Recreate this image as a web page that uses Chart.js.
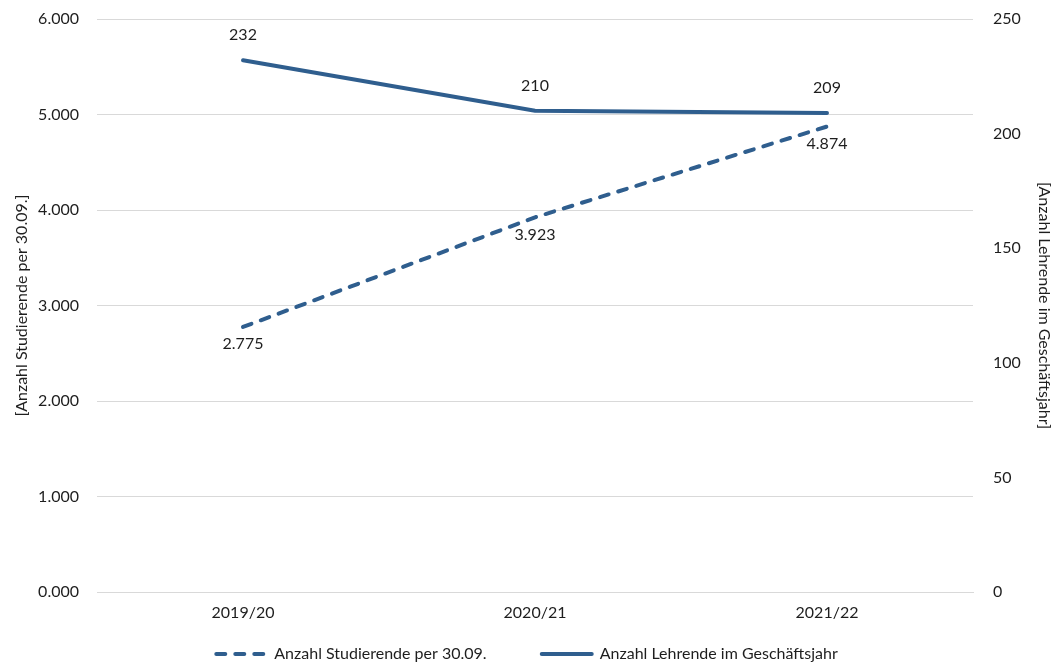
<!DOCTYPE html>
<html>
<head>
<meta charset="utf-8">
<script src="https://cdn.jsdelivr.net/npm/chart.js@4"></script>
<style>
  html, body { margin: 0; padding: 0; background: #fff; }
  #wrap { width: 1054px; height: 668px; }
</style>
</head>
<body>
<div id="wrap"><canvas id="chart" width="1054" height="668"></canvas></div>
<script>
// data
const years = ["2019/20", "2020/21", "2021/22"];
const studierende = [2775, 3923, 4874];
const lehrende = [232, 210, 209];
const leftTicks = ["0.000", "1.000", "2.000", "3.000", "4.000", "5.000", "6.000"];
const rightTicks = ["0", "50", "100", "150", "200", "250"];

const blue = "#2F5E8E";
const font = "Lato, 'Open Sans', sans-serif";
const textColor = "#1e1e1e";

// draws the numbers next to the points
const pointLabels = {
  id: "pointLabels",
  afterDatasetsDraw(chart) {
    const ctx = chart.ctx;
    ctx.save();
    ctx.font = "16px " + font;
    ctx.fillStyle = textColor;
    ctx.textAlign = "center";
    ctx.textBaseline = "middle";
    chart.data.datasets.forEach((ds, i) => {
      const meta = chart.getDatasetMeta(i);
      meta.data.forEach((pt, j) => {
        const dy = i === 0 ? 17 : -25;
        ctx.fillText(ds.labelText[j], pt.x, pt.y + dy);
      });
    });
    ctx.restore();
  }
};

function fmtThousands(n) {
  return n.toString().replace(/\B(?=(\d{3})+(?!\d))/g, ".");
}

// fixed widths for the side axes, no extra overflow padding
function fixWidth(w) {
  return (scale) => {
    scale.width = w;
    scale.paddingTop = 0;
    scale.paddingBottom = 0;
  };
}

const ctx = document.getElementById("chart").getContext("2d");
new Chart(ctx, {
  type: "line",
  data: {
    labels: years,
    datasets: [
      {
        label: "Anzahl Studierende per 30.09.",
        data: studierende,
        labelText: studierende.map(fmtThousands),
        yAxisID: "y",
        borderColor: blue,
        backgroundColor: blue,
        borderWidth: 4,
        borderDash: [9, 10],
        borderCapStyle: "round",
        pointRadius: 0,
        tension: 0
      },
      {
        label: "Anzahl Lehrende im Geschäftsjahr",
        data: lehrende,
        labelText: lehrende.map(String),
        yAxisID: "y1",
        borderColor: blue,
        backgroundColor: blue,
        borderWidth: 4,
        borderCapStyle: "round",
        pointRadius: 0,
        tension: 0
      }
    ]
  },
  options: {
    responsive: false,
    animation: false,
    layout: { padding: { top: 19, left: 0, right: 0, bottom: -4 } },
    plugins: {
      tooltip: { enabled: false },
      legend: {
        position: "bottom",
        labels: {
          usePointStyle: true,
          pointStyle: "line",
          pointStyleWidth: 50,
          padding: 18,
          color: textColor,
          font: { family: font, size: 16 },
          generateLabels(chart) {
            const items = Chart.defaults.plugins.legend.labels.generateLabels(chart);
            items.forEach((it, i) => {
              const ds = chart.data.datasets[i];
              it.lineDash = ds.borderDash || [];
              it.lineCap = "round";
              it.lineWidth = 4;
              it.strokeStyle = ds.borderColor;
              // wider gap after the first item
              if (i === 0) it.text = ds.label + "\u2007\u2007\u2007\u2007";
            });
            return items;
          }
        }
      }
    },
    scales: {
      x: {
        offset: true,
        grid: { display: false },
        border: { color: "#d9d9d9" },
        ticks: { color: textColor, padding: 3, font: { family: font, size: 16 } },
        afterFit(scale) { scale.height = 36; }
      },
      y: {
        position: "left",
        min: 0,
        max: 6000,
        grid: { color: "#d9d9d9", drawTicks: false },
        border: { display: false },
        ticks: {
          stepSize: 1000,
          padding: 18,
          color: textColor,
          font: { family: font, size: 16 },
          callback: (v) => leftTicks[v / 1000]
        },
        title: {
          display: true,
          text: "[Anzahl Studierende per 30.09.]",
          color: textColor,
          font: { family: font, size: 16 },
          padding: { top: 12, bottom: 0 }
        },
        afterFit: fixWidth(97)
      },
      y1: {
        position: "right",
        min: 0,
        max: 250,
        grid: { display: false, drawTicks: false },
        border: { display: false },
        ticks: {
          stepSize: 50,
          padding: 20,
          color: textColor,
          font: { family: font, size: 16 },
          callback: (v) => rightTicks[v / 50]
        },
        title: {
          display: true,
          text: "[Anzahl Lehrende im Geschäftsjahr]",
          color: textColor,
          font: { family: font, size: 16 },
          padding: { top: 0, bottom: 0 }
        },
        afterFit: fixWidth(81)
      }
    }
  },
  plugins: [pointLabels]
});
</script>
</body>
</html>
